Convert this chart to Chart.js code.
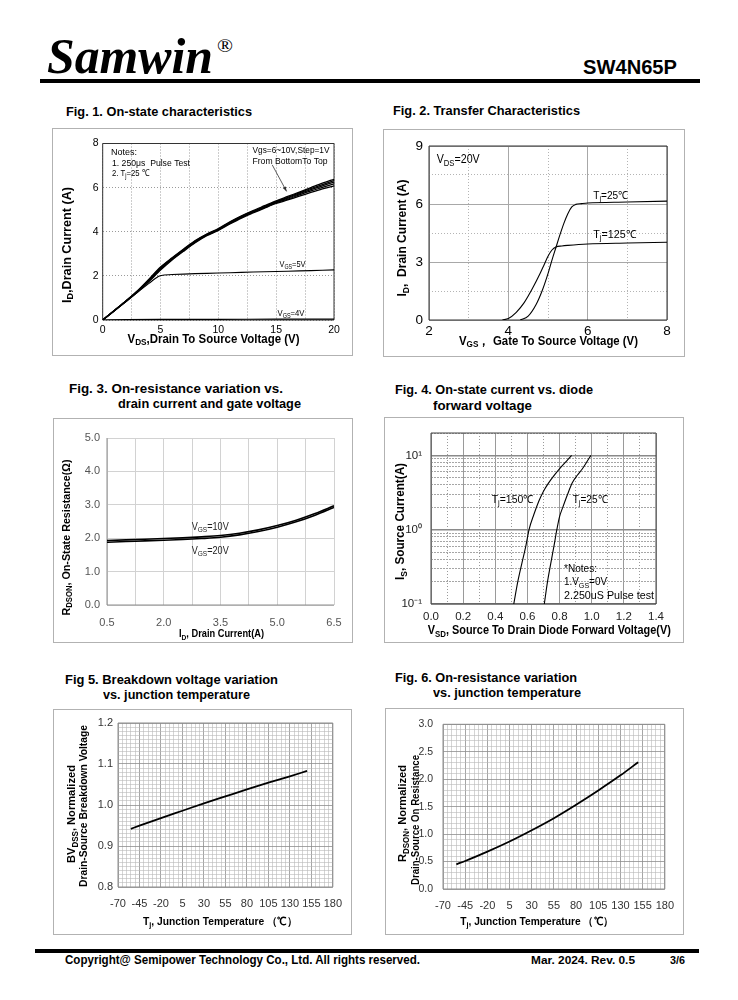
<!DOCTYPE html>
<html><head><meta charset="utf-8">
<script src="https://cdn.jsdelivr.net/npm/chart.js@4.4.1/dist/chart.umd.min.js"></script>
<style>
html,body{margin:0;padding:0;background:#fff}
body{width:738px;height:1000px;position:relative;overflow:hidden;font-family:'Liberation Sans',Arial,Helvetica,sans-serif;color:#000}
.t{position:absolute;white-space:nowrap;transform-origin:0 50%}
.bold{font-weight:bold}
.box{position:absolute;border:1.5px solid #b2b2b2;box-sizing:border-box;pointer-events:none}
canvas{position:absolute}
.rule{position:absolute;background:#000}
</style></head><body>

<div class="t" data-w="166" style="left:47px;top:31px;font:italic bold 50px/50px 'Liberation Serif','Times New Roman',serif;">Samwin</div>
<div class="t" data-w="16" style="left:217px;top:37px;font:18px/18px 'Liberation Serif','Times New Roman',serif;">®</div>
<div class="t bold" data-w="94" style="left:583px;top:57px;font-size:20px;line-height:20px;">SW4N65P</div>
<div class="rule" style="left:40px;top:79px;width:660px;height:4px"></div>

<div class="t bold" data-w="186" style="left:66px;top:104px;font-size:13px;line-height:16px">Fig. 1. On-state characteristics</div>
<div class="t bold" data-w="187" style="left:393px;top:103px;font-size:13px;line-height:16px">Fig. 2. Transfer Characteristics</div>
<div class="t bold" data-w="214" style="left:69px;top:381px;font-size:13px;line-height:16px">Fig. 3. On-resistance variation vs.</div>
<div class="t bold" data-w="183" style="left:118px;top:396px;font-size:13px;line-height:16px">drain current and gate voltage</div>
<div class="t bold" data-w="198" style="left:395px;top:382px;font-size:13px;line-height:16px">Fig. 4. On-state current vs. diode</div>
<div class="t bold" data-w="99" style="left:433px;top:398px;font-size:13px;line-height:16px">forward voltage</div>
<div class="t bold" data-w="213" style="left:65px;top:672px;font-size:13px;line-height:16px">Fig 5. Breakdown voltage variation</div>
<div class="t bold" data-w="147" style="left:103px;top:687px;font-size:13px;line-height:16px">vs. junction temperature</div>
<div class="t bold" data-w="182" style="left:395px;top:670px;font-size:13px;line-height:16px">Fig. 6. On-resistance variation</div>
<div class="t bold" data-w="148" style="left:433px;top:685px;font-size:13px;line-height:16px">vs. junction temperature</div>

<canvas id="c1"></canvas><canvas id="c2"></canvas><canvas id="c3"></canvas>
<canvas id="c4"></canvas><canvas id="c5"></canvas><canvas id="c6"></canvas>
<div id="boxes"></div>

<div class="rule" style="left:35px;top:949px;width:664px;height:4px"></div>
<div class="t bold" data-w="355" style="left:65px;top:953px;font-size:12px;line-height:14px">Copyright@ Semipower Technology Co., Ltd. All rights reserved.</div>
<div class="t bold" data-w="104" style="left:531px;top:954px;font-size:11px;line-height:13px">Mar. 2024. Rev. 0.5</div>
<div class="t bold" data-w="15" style="left:670px;top:954px;font-size:11px;line-height:13px">3/6</div>

<script>
// ---------------- DATA ----------------
// Fig.1 On-state characteristics
const f1X = [0,1,2,3,4,5,6,7,8,9,10,11,12,13,14,15,16,17,18,19,20];
const f1Vgs10 = [0,0.43,0.86,1.32,1.85,2.40,2.82,3.22,3.60,3.90,4.14,4.45,4.72,4.96,5.18,5.40,5.60,5.80,6.00,6.20,6.38];
const f1Vgs9  = [0,0.43,0.86,1.31,1.83,2.37,2.80,3.20,3.58,3.88,4.12,4.43,4.70,4.93,5.15,5.37,5.56,5.76,5.96,6.14,6.32];
const f1Vgs8  = [0,0.42,0.85,1.30,1.80,2.34,2.78,3.18,3.56,3.86,4.10,4.41,4.68,4.90,5.12,5.34,5.52,5.72,5.91,6.08,6.25];
const f1Vgs7  = [0,0.42,0.84,1.28,1.77,2.30,2.75,3.15,3.53,3.84,4.08,4.38,4.65,4.88,5.10,5.31,5.48,5.67,5.85,6.01,6.17];
const f1Vgs6  = [0,0.41,0.83,1.26,1.74,2.26,2.72,3.12,3.50,3.82,4.06,4.35,4.62,4.85,5.07,5.28,5.44,5.61,5.78,5.94,6.08];
const f1X5 = [0,1,2,3,4,4.8,5.2,6,8,10,12,14,16,18,20];
const f1Vgs5 = [0,0.42,0.84,1.26,1.66,1.97,2.03,2.06,2.10,2.13,2.16,2.19,2.21,2.24,2.27];
const f1X4 = [0,2,5,10,15,20];
const f1Vgs4 = [0,0.02,0.03,0.03,0.04,0.04];
const f1XTicks = [0,2.5,5,7.5,10,12.5,15,17.5,20];
const f1YTicks = [0,2,4,6,8];

// Fig.2 Transfer characteristics
const f2X25  = [4.3,4.5,4.7,4.85,5.0,5.1,5.2,5.3,5.4,5.5,5.6,5.7,5.85,6,7,8];
const f2Y25  = [0,0.2,0.8,1.5,2.4,3.1,3.75,4.4,5.0,5.5,5.85,5.98,6.02,6.05,6.1,6.15];
const f2X125 = [3.85,4.0,4.2,4.4,4.6,4.8,4.9,5.0,5.1,5.2,5.35,5.5,6,7,8];
const f2Y125 = [0,0.08,0.4,0.9,1.6,2.4,2.85,3.3,3.62,3.78,3.83,3.86,3.93,3.98,4.02];
const f2XTicks = [2,3,4,5,6,7,8];
const f2YTicks = [0,1.5,3,4.5,6,7.5,9];

// Fig.3 On-resistance vs drain current
const f3X = [0.5,1,1.5,2,2.5,3,3.5,4,4.5,5,5.5,6,6.5];
const f3Vgs10 = [1.93,1.95,1.97,1.99,2.01,2.04,2.08,2.15,2.25,2.38,2.54,2.74,2.97];
const f3Vgs20 = [1.88,1.90,1.92,1.94,1.96,1.99,2.03,2.10,2.20,2.33,2.49,2.69,2.92];
const f3XTicks = [0.5,1.25,2,2.75,3.5,4.25,5,5.75,6.5];
const f3XLabels = [0.5,2,3.5,5,6.5];
const f3YTicks = [0,1,2,3,4,5];

// Fig.4 Diode forward characteristics
const f4X150 = [0.515,0.54,0.565,0.59,0.61,0.64,0.67,0.70,0.73,0.77,0.81,0.85,0.875];
const f4Y150 = [0.1,0.2,0.35,0.6,1.0,1.6,2.4,3.3,4.2,5.5,7.0,8.7,10];
const f4X25  = [0.705,0.725,0.745,0.765,0.783,0.80,0.82,0.85,0.88,0.91,0.94,0.97,0.995];
const f4Y25  = [0.1,0.2,0.35,0.6,1.0,1.5,2.0,3.0,4.3,5.4,6.5,8.2,10];
const f4XTicks = [0,0.1,0.2,0.3,0.4,0.5,0.6,0.7,0.8,0.9,1.0,1.1,1.2,1.3,1.4];
const f4YTicks = [0.1,0.2,0.3,0.4,0.5,0.6,0.7,0.8,0.9,1,2,3,4,5,6,7,8,9,10,20];
const f4YLabels = {0.1:'10\u207B\u00B9', 1:'10\u2070', 10:'10\u00B9'};

// Fig.5 Breakdown voltage vs Tj
const f5X = [-55,-45,-20,5,30,55,80,105,130,150];
const f5Y = [0.942,0.9496,0.968,0.986,1.004,1.021,1.038,1.0545,1.070,1.083];
// Fig.6 On-resistance vs Tj
const f6X = [-55,-45,-20,5,30,55,80,105,130,150];
const f6Y = [0.45,0.51,0.68,0.865,1.07,1.29,1.535,1.795,2.07,2.31];
const tjTicks = []; for (let i = 0; i <= 50; i++) tjTicks.push(-70 + i*5);
const f5YTicks = []; for (let i = 0; i <= 40; i++) f5YTicks.push(Math.round((0.8 + i*0.01)*1000)/1000);
const f6YTicks = []; for (let i = 0; i <= 30; i++) f6YTicks.push(Math.round(i*0.1*1000)/1000);

// ---------------- HELPERS ----------------
const FAM = "'Liberation Sans', Arial, Helvetica, sans-serif";
const zip = (xs, ys) => xs.map((x,i)=>({x, y: ys[i]}));
const near = (a,b) => Math.abs(a-b) < 1e-6;

function drawRich(ctx, it, ox, oy){
  const F = it.size || 11, wt = it.bold ? 'bold ' : '';
  const parts = it.t.map(s => { const st = s[1] || ''; const fs = st ? F*0.72 : F;
    ctx.font = wt + fs + 'px ' + FAM; return {txt:s[0], st, fs, w: ctx.measureText(s[0]).width}; });
  const total = parts.reduce((a,p)=>a+p.w, 0);
  const sx = it.w ? it.w/total : 1;
  ctx.save();
  ctx.translate(it.x-ox, it.y-oy);
  if (it.rot) ctx.rotate(it.rot*Math.PI/180);
  if (it.align === 'center') ctx.translate(-total*sx/2, 0);
  ctx.scale(sx, 1);
  ctx.fillStyle = it.color || '#000'; ctx.textBaseline = 'middle'; ctx.textAlign = 'left';
  let x = 0;
  parts.forEach(p => { ctx.font = wt + p.fs + 'px ' + FAM; ctx.fillText(p.txt, x, p.st==='sub' ? F*0.28 : 0); x += p.w; });
  ctx.restore();
}

const richPlugin = {
  id: 'rich',
  afterDraw(chart, args, o){
    const ctx = chart.ctx;
    (o.items||[]).forEach(it => drawRich(ctx, it, o.box.l, o.box.t));
    (o.arrows||[]).forEach(a => {
      const xs = chart.scales.x, ys = chart.scales.y;
      const x1 = xs.getPixelForValue(a.from[0]), y1 = ys.getPixelForValue(a.from[1]);
      const x2 = xs.getPixelForValue(a.to[0]), y2 = ys.getPixelForValue(a.to[1]);
      ctx.save(); ctx.strokeStyle = '#333'; ctx.fillStyle = '#333'; ctx.lineWidth = 0.8;
      ctx.beginPath(); ctx.moveTo(x1,y1); ctx.lineTo(x2,y2); ctx.stroke();
      const ang = Math.atan2(y2-y1, x2-x1);
      ctx.beginPath(); ctx.moveTo(x2,y2);
      ctx.lineTo(x2-5*Math.cos(ang-0.35), y2-5*Math.sin(ang-0.35));
      ctx.lineTo(x2-5*Math.cos(ang+0.35), y2-5*Math.sin(ang+0.35)); ctx.closePath(); ctx.fill();
      ctx.restore();
    });
  }
};
const framePlugin = {
  id: 'frame',
  beforeDatasetsDraw(chart, args, o){
    if (!o.color) return;
    const a = chart.chartArea, ctx = chart.ctx, s = o.sides || 'ltrb';
    ctx.save(); ctx.strokeStyle = o.color; ctx.lineWidth = o.width || 1; ctx.beginPath();
    if (s.includes('l')) { ctx.moveTo(a.left, a.top); ctx.lineTo(a.left, a.bottom); }
    if (s.includes('b')) { ctx.moveTo(a.left, a.bottom); ctx.lineTo(a.right, a.bottom); }
    if (s.includes('t')) { ctx.moveTo(a.left, a.top); ctx.lineTo(a.right, a.top); }
    if (s.includes('r')) { ctx.moveTo(a.right, a.top); ctx.lineTo(a.right, a.bottom); }
    ctx.stroke(); ctx.restore();
  }
};

function axis(type, min, max, ticksArr, labelFn, gridFn, font, color, pad){
  return {
    type, min, max, bounds: 'data',
    afterBuildTicks: s => { s.ticks = ticksArr.map(v => ({value: v})); },
    ticks: { autoSkip: false, maxRotation: 0, minRotation: 0, padding: pad,
      font: {family: FAM, size: font}, color, callback: v => labelFn(v) },
    grid: { drawTicks: false,
      color: c => c.tick ? gridFn(c.tick.value).color : 'rgba(0,0,0,0)',
      lineWidth: c => c.tick ? gridFn(c.tick.value).width || 1 : 1 },
    border: { display: false, dash: c => c.tick ? (gridFn(c.tick.value).dash || []) : [] }
  };
}

function line(points, width, extra){
  return Object.assign({data: points, showLine: true, pointRadius: 0, borderColor: '#000',
    borderWidth: width, cubicInterpolationMode: 'monotone', fill: false}, extra||{});
}

function makeChart(id, box, plot, datasets, xAxis, yAxis, items, frame, arrows){
  const W = box.r-box.l, H = box.b-box.t;
  const cv = document.getElementById(id);
  cv.style.left = box.l+'px'; cv.style.top = box.t+'px';
  cv.style.width = W+'px'; cv.style.height = H+'px'; cv.width = W; cv.height = H;
  xAxis.afterFit = s => { s.height = box.b - plot.B; };
  yAxis.afterFit = s => { s.width = plot.L - box.l; };
  new Chart(cv, {
    type: 'scatter',
    data: {datasets},
    options: {
      responsive: false, animation: false, events: [],
      layout: {padding: {left: 0, top: plot.T-box.t, right: box.r-plot.R, bottom: 0}},
      scales: {x: xAxis, y: yAxis},
      plugins: {legend: {display: false}, tooltip: {enabled: false},
        rich: {box, items, arrows: arrows||[]}, frame}
    },
    plugins: [framePlugin, richPlugin]
  });
  const b = document.createElement('div'); b.className = 'box';
  Object.assign(b.style, {left: box.l+'px', top: box.t+'px', width: W+'px', height: H+'px'});
  document.getElementById('boxes').appendChild(b);
}

// ---------------- FIG 1 ----------------
(function(){
  const box = {l:52, t:128, r:353, b:356}, plot = {L:102.7, T:143.5, R:334, B:320};
  const dot = () => ({color:'#9a9a9a', dash:[1,2]});
  const ds = [f1Vgs6,f1Vgs7,f1Vgs8,f1Vgs9,f1Vgs10].map(v => line(zip(f1X, v), 1.3, {cubicInterpolationMode:'default', tension:0.3}));
  ds.push(line(zip(f1X5, f1Vgs5), 1.1, {cubicInterpolationMode:'default', tension:0.15}));
  ds.push(line(zip(f1X4, f1Vgs4), 1.1));
  const items = [
    {t:[['I'],['D','sub'],[',Drain Current (A)']], x:67, y:245, size:13, bold:true, rot:-90, align:'center', w:116},
    {t:[['V'],['DS','sub'],[',Drain To Source Voltage (V)']], x:213.5, y:339, size:13, bold:true, align:'center', w:172},
    {t:[['Notes:']], x:111, y:152.5, size:9.5, w:26},
    {t:[['1. 250\u03BCs  Pulse Test']], x:112, y:163, size:9.5, w:78},
    {t:[['2. T'],['j','sub'],['=25 \u2103']], x:112, y:173.5, size:9.5, w:37},
    {t:[['Vgs=6~10V,Step=1V']], x:252.5, y:150, size:9.5, w:77},
    {t:[['From BottomTo Top']], x:252.5, y:161, size:9.5, w:75},
    {t:[['V'],['GS','sub'],['=5V']], x:279.5, y:265, size:9, w:26},
    {t:[['V'],['GS','sub'],['=4V']], x:277.5, y:313.5, size:9, w:27}
  ];
  makeChart('c1', box, plot, ds,
    axis('linear', 0, 20, f1XTicks, v => (v % 5 === 0 ? String(v) : ''), dot, 10.5, '#000', 4),
    axis('linear', 0, 8, f1YTicks, v => String(v), dot, 10.5, '#000', 4),
    items, {color:'#333', width:1}, [{from:[14.66,7.03], to:[15.9,5.83]}]);
})();

// ---------------- FIG 2 ----------------
(function(){
  const box = {l:383, t:129, r:685, b:357}, plot = {L:429, T:146, R:667, B:320};
  const gx = v => (v % 2 === 0 ? {color:'#a8a8a8'} : {color:'#b4b4b4', dash:[1,2]});
  const gy = v => (v % 3 === 0 ? {color:'#a8a8a8'} : {color:'#b4b4b4', dash:[1,2]});
  const ds = [line(zip(f2X25, f2Y25), 1.1), line(zip(f2X125, f2Y125), 1.1)];
  const items = [
    {t:[['I'],['D','sub'],[',  Drain Current (A)']], x:402.5, y:238, size:13, bold:true, rot:-90, align:'center', w:117},
    {t:[['V'],['GS','sub'],['\uFF0C Gate To Source Voltage (V)']], x:548.5, y:341, size:13, bold:true, align:'center', w:179},
    {t:[['V'],['DS','sub'],['=20V']], x:436.7, y:159.5, size:13, w:43},
    {t:[['T'],['j','sub'],['=25\u2103']], x:593.3, y:196, size:11, w:35},
    {t:[['T'],['j','sub'],['=125\u2103']], x:593.3, y:234.5, size:11, w:43}
  ];
  makeChart('c2', box, plot, ds,
    axis('linear', 2, 8, f2XTicks, v => (v % 2 === 0 ? String(v) : ''), gx, 13.5, '#000', 3),
    axis('linear', 0, 9, f2YTicks, v => (v % 3 === 0 ? String(v) : ''), gy, 13.5, '#000', 6),
    items, {color:'#333', width:1});
})();

// ---------------- FIG 3 ----------------
(function(){
  const box = {l:53, t:418, r:353, b:643}, plot = {L:107, T:438, R:334, B:605};
  const g = () => ({color:'#d2d2d2'});
  const ds = [line(zip(f3X, f3Vgs10), 1.6), line(zip(f3X, f3Vgs20), 1.6)];
  const items = [
    {t:[['R'],['DSON','sub'],[', On-State Resistance(\u03A9)']], x:66.5, y:537.5, size:11.5, bold:true, rot:-90, align:'center', w:156},
    {t:[['I'],['D','sub'],[', Drain Current(A)']], x:221.5, y:634.3, size:11, bold:true, align:'center', w:85},
    {t:[['V'],['GS','sub'],['=10V']], x:191.7, y:526.7, size:11, w:37, color:'#222'},
    {t:[['V'],['GS','sub'],['=20V']], x:191.7, y:550.7, size:11, w:37, color:'#222'}
  ];
  makeChart('c3', box, plot, ds,
    axis('linear', 0.5, 6.5, f3XTicks, v => (f3XLabels.some(l => near(l, v)) ? v.toFixed(1) : ''), g, 11, '#555', 11),
    axis('linear', 0, 5, f3YTicks, v => v.toFixed(1), g, 11, '#555', 7),
    items, {color:'#8c8c8c', width:1, sides:'lb'});
})();

// ---------------- FIG 4 ----------------
(function(){
  const box = {l:384, t:417, r:684, b:643}, plot = {L:431, T:433, R:656, B:604};
  const gx = v => (Math.round(v*10) % 2 === 0 ? {color:'#9a9a9a'} : {color:'#9a9a9a', dash:[1,2]});
  const gy = v => ([0.1,1,10].some(d => near(d, v)) ? {color:'#8a8a8a', width:1.6} : {color:'#a6a6a6', dash:[2,1]});
  const ds = [line(zip(f4X150, f4Y150), 1.1), line(zip(f4X25, f4Y25), 1.1)];
  const items = [
    {t:[['I'],['S','sub'],[', Source Current(A)']], x:400.7, y:521.5, size:12.5, bold:true, rot:-90, align:'center', w:117},
    {t:[['V'],['SD','sub'],[', Source To Drain Diode Forward Voltage(V)']], x:549.3, y:631, size:12.5, bold:true, align:'center', w:243},
    {t:[['T'],['j','sub'],['=150\u2103']], x:491.7, y:500, size:11, w:42},
    {t:[['T'],['j','sub'],['=25\u2103']], x:572.7, y:500, size:11, w:35},
    {t:[['*Notes:']], x:564, y:568.5, size:11, w:33},
    {t:[['1.V'],['GS','sub'],['=0V']], x:564, y:582.3, size:11, w:43},
    {t:[['2.250uS Pulse test']], x:564, y:595.7, size:11, w:90}
  ];
  makeChart('c4', box, plot, ds,
    axis('linear', 0, 1.4, f4XTicks, v => (Math.round(v*10) % 2 === 0 ? v.toFixed(1) : ''), gx, 11.5, '#222', 6),
    axis('logarithmic', 0.1, 20, f4YTicks, v => { const k = Object.keys(f4YLabels).find(d => near(+d, v)); return k ? f4YLabels[k] : ''; }, gy, 11.5, '#222', 9),
    items, {color:'#444', width:1});
})();

// ---------------- FIG 5 ----------------
(function(){
  const box = {l:53, t:709, r:352, b:935}, plot = {L:118, T:723, R:335, B:887};
  const gx = v => ((v+70) % 25 === 0 ? {color:'#8e8e8e', width:0.8} : {color:'#b8b8b8', width:0.6});
  const gy = v => (near(v*10, Math.round(v*10)) ? {color:'#8e8e8e', width:0.8} : {color:'#b8b8b8', width:0.6});
  const ds = [line(zip(f5X, f5Y), 1.8)];
  const items = [
    {t:[['BV'],['DSS','sub'],[', Normalized']], x:72, y:814, size:11.5, bold:true, rot:-90, align:'center', w:98},
    {t:[['Drain-Source Breakdown Voltage']], x:84, y:806, size:11.5, bold:true, rot:-90, align:'center', w:162},
    {t:[['T'],['j','sub'],[', Junction Temperature \uFF08\u2103\uFF09']], x:220, y:921.7, size:11, bold:true, align:'center', w:154}
  ];
  makeChart('c5', box, plot, ds,
    axis('linear', -70, 180, tjTicks, v => ((v+70) % 25 === 0 ? String(v) : ''), gx, 11, '#333', 10),
    axis('linear', 0.8, 1.2, f5YTicks, v => (near(v*10, Math.round(v*10)) ? v.toFixed(1) : ''), gy, 11, '#333', 5),
    items, {color:'#8e8e8e', width:1});
})();

// ---------------- FIG 6 ----------------
(function(){
  const box = {l:385, t:708, r:684, b:935}, plot = {L:443, T:721, R:670, B:889};
  const gx = v => ((v+70) % 25 === 0 ? {color:'#8e8e8e', width:0.8} : {color:'#b8b8b8', width:0.6});
  const gy = v => (near(v*2, Math.round(v*2)) ? {color:'#8e8e8e', width:0.8} : {color:'#b8b8b8', width:0.6});
  const ds = [line(zip(f6X, f6Y), 1.8)];
  const items = [
    {t:[['R'],['DSON','sub'],[', Normalized']], x:403, y:813.5, size:11.5, bold:true, rot:-90, align:'center', w:97},
    {t:[['Drain-Source On Resistance']], x:415.5, y:820, size:11.5, bold:true, rot:-90, align:'center', w:130},
    {t:[['T'],['j','sub'],[', Junction Temperature \uFF08\u2103\uFF09']], x:536.7, y:921.7, size:11, bold:true, align:'center', w:153}
  ];
  makeChart('c6', box, plot, ds,
    axis('linear', -70, 180, tjTicks, v => ((v+70) % 25 === 0 ? String(v) : ''), gx, 11, '#333', 10),
    axis('linear', 0, 3, f6YTicks, v => (near(v*2, Math.round(v*2)) ? v.toFixed(1) : ''), gy, 10.5, '#333', 10),
    items, {color:'#8e8e8e', width:1});
})();

// fit widths of HTML texts
document.querySelectorAll('[data-w]').forEach(el => {
  const w = el.getBoundingClientRect().width;
  if (w > 0) el.style.transform = 'scaleX(' + (parseFloat(el.dataset.w)/w) + ')';
});
</script>
</body></html>
